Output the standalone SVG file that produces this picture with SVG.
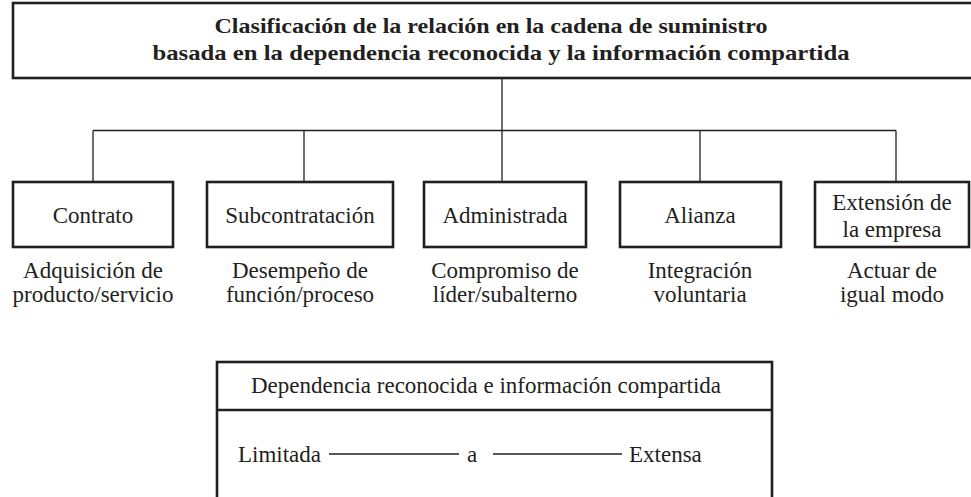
<svg xmlns="http://www.w3.org/2000/svg" width="971" height="497" viewBox="0 0 971 497">
<style>
  .box { fill: #ffffff; stroke: #231f20; stroke-width: 2.6; }
  .conn { fill: none; stroke: #231f20; stroke-width: 1.3; }
  .t { font-family: "Liberation Serif", "Times New Roman", serif; font-size: 23px; fill: #231f20; text-anchor: middle; }
  .title { font-family: "Liberation Serif", "Times New Roman", serif; font-size: 22px; font-weight: bold; fill: #231f20; text-anchor: middle; }
  .l { text-anchor: start; }
</style>
<rect width="971" height="497" fill="#ffffff"/>
<g id="connectors">
  <line class="conn" x1="502" y1="78" x2="502" y2="130.5"/>
  <line class="conn" x1="93" y1="130.5" x2="896" y2="130.5"/>
  <line class="conn" x1="93" y1="130.5" x2="93" y2="182"/>
  <line class="conn" x1="304" y1="130.5" x2="304" y2="182"/>
  <line class="conn" x1="502" y1="130.5" x2="502" y2="182"/>
  <line class="conn" x1="700" y1="130.5" x2="700" y2="182"/>
  <line class="conn" x1="896" y1="130.5" x2="896" y2="182"/>
</g>
<g id="root">
  <rect class="box" x="13" y="3" width="975" height="75"/>
  <text class="title" x="491" y="33" textLength="553" lengthAdjust="spacingAndGlyphs">Clasificación de la relación en la cadena de suministro</text>
  <text class="title" x="501" y="60" textLength="697" lengthAdjust="spacingAndGlyphs">basada en la dependencia reconocida y la información compartida</text>
</g>
<g id="contrato">
  <rect class="box" x="13" y="182" width="160" height="65"/>
  <text class="t" x="93" y="223">Contrato</text>
  <text class="t" x="93" y="278">Adquisición de</text>
  <text class="t" x="93" y="302">producto/servicio</text>
</g>
<g id="subcontratacion">
  <rect class="box" x="207" y="182" width="186" height="65"/>
  <text class="t" x="300" y="223">Subcontratación</text>
  <text class="t" x="300" y="278">Desempeño de</text>
  <text class="t" x="300" y="302">función/proceso</text>
</g>
<g id="administrada">
  <rect class="box" x="424" y="182" width="162" height="65"/>
  <text class="t" x="505" y="223">Administrada</text>
  <text class="t" x="505" y="278">Compromiso de</text>
  <text class="t" x="505" y="302">líder/subalterno</text>
</g>
<g id="alianza">
  <rect class="box" x="620" y="182" width="161" height="65"/>
  <text class="t" x="700" y="223">Alianza</text>
  <text class="t" x="700" y="278">Integración</text>
  <text class="t" x="700" y="302">voluntaria</text>
</g>
<g id="extension">
  <rect class="box" x="815" y="182" width="154" height="65"/>
  <text class="t" x="892" y="210">Extensión de</text>
  <text class="t" x="892" y="237">la empresa</text>
  <text class="t" x="892" y="278">Actuar de</text>
  <text class="t" x="892" y="302">igual modo</text>
</g>
<g id="escala">
  <rect class="box" x="217" y="362" width="555" height="150"/>
  <line class="box" x1="217" y1="410" x2="772" y2="410"/>
  <text class="t" x="486" y="393">Dependencia reconocida e información compartida</text>
  <text class="t l" x="238" y="462">Limitada</text>
  <line class="conn" x1="329" y1="454" x2="459" y2="454"/>
  <text class="t" x="472" y="462">a</text>
  <line class="conn" x1="493" y1="454" x2="622" y2="454"/>
  <text class="t l" x="629" y="462">Extensa</text>
</g>
</svg>
